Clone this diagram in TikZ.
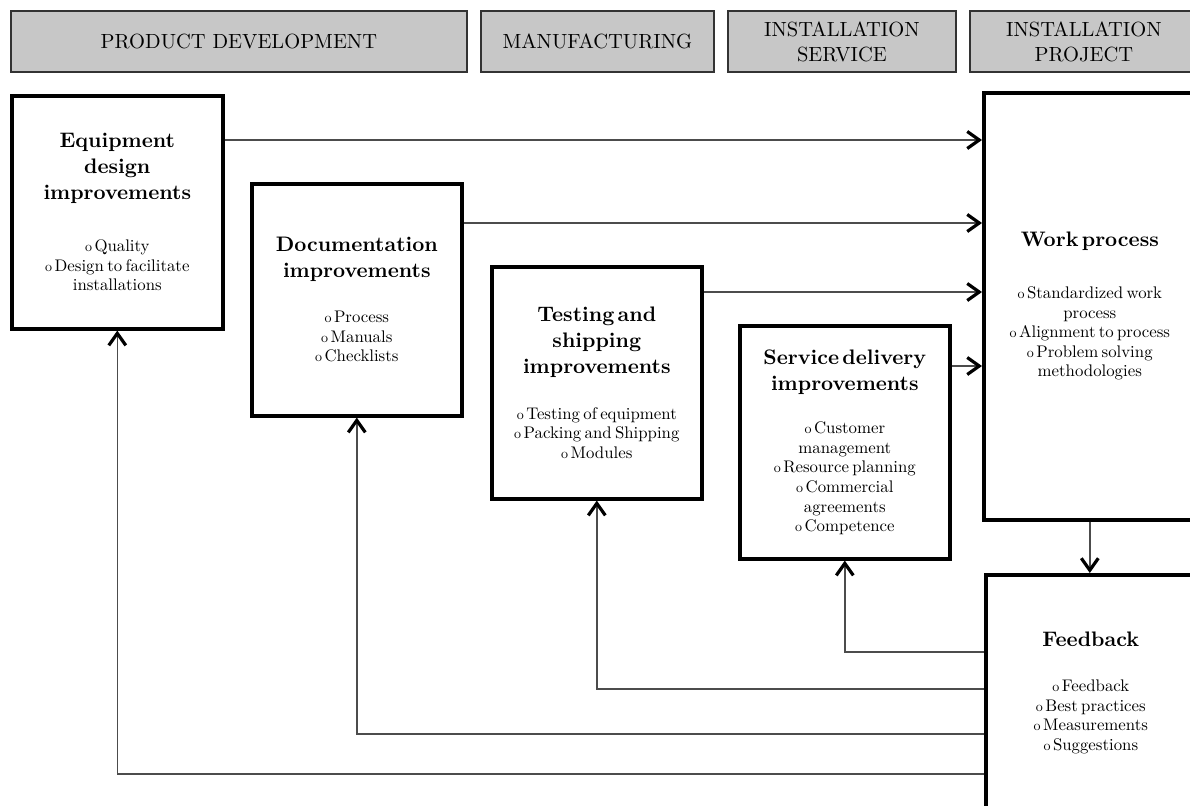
\documentclass[tikz,border=0pt]{standalone}
\usepackage{fontspec}
\setmainfont{lmroman10-regular}[Extension=.otf, BoldFont=lmroman10-bold]
\usetikzlibrary{arrows.meta}
\newcommand\hdrfont{\fontsize{20.5}{25}\selectfont}
\newcommand\ttlfont{\fontsize{21}{26}\selectfont\bfseries}
\newcommand\bdyfont{\fontsize{16.8}{19.6}\selectfont}
\newcommand\bul{{\fontsize{14}{14}\selectfont o}\kern2.5pt}
\newcommand\blocktext[3]{{\ttlfont #1\par}\vspace{#3}{\bdyfont #2\par}}
\begin{document}
\begin{tikzpicture}[x=1pt,y=-1pt,
  hdr/.style={draw=black!80, fill=black!22, line width=1.8pt, inner sep=0pt, align=center, font=\hdrfont, anchor=north west, minimum height=61pt},
  blk/.style={draw=black, line width=3.6pt, fill=white, inner sep=0pt, align=center, anchor=north west},
  conn/.style={draw=black!70, line width=1.6pt},
  arr/.style={conn, -{Straight Barb[length=12pt,width=17pt,line width=3.2pt,color=black]}},
]
\useasboundingbox (0,0) rectangle (1190,805);
\clip (0,0) rectangle (1190,805);

% headers
\node[hdr, minimum width=456pt] (hp) at (10,10) {PRODUCT DEVELOPMENT};
\node[hdr, minimum width=233pt] (hm) at (480,10) {MANUFACTURING};
\node[hdr, minimum width=228pt] (hs) at (727,10) {INSTALLATION\\SERVICE};
\node[hdr, minimum width=228pt] (hi) at (969,10) {INSTALLATION\\PROJECT};

% blocks
\node[blk, minimum width=211pt, minimum height=233pt, text width=205pt] (eq) at (10,94)
  {\blocktext{Equipment\\design\\improvements}{\bul Quality\\\bul Design to facilitate\\installations}{32pt}};
\node[blk, minimum width=210pt, minimum height=232pt, text width=205pt] (doc) at (250,182)
  {\blocktext{Documentation\\improvements}{\bul Process\\\bul Manuals\\\bul Checklists}{25pt}};
\node[blk, minimum width=210pt, minimum height=232pt, text width=205pt] (test) at (490,265)
  {\blocktext{Testing and\\shipping\\improvements}{\bul Testing of equipment\\\bul Packing and Shipping\\\bul Modules}{26pt}};
\node[blk, minimum width=210pt, minimum height=233pt, text width=205pt] (serv) at (738,324)
  {\blocktext{Service delivery\\improvements}{\bul Customer\\management\\\bul Resource planning\\\bul Commercial\\agreements\\\bul Competence}{24pt}};
\node[blk, minimum width=212pt, minimum height=427pt, text width=205pt] (work) at (982,91)
  {\blocktext{Work process}{\bul Standardized work\\process\\\bul Alignment to process\\\bul Problem solving\\methodologies}{32pt}};
\node[blk, minimum width=210pt, minimum height=236pt, text width=205pt] (fb) at (984,573)
  {\blocktext{Feedback}{\bul Feedback\\\bul Best practices\\\bul Measurements\\\bul Suggestions}{26pt}};

% level coordinates
\coordinate (y1) at (0,140);
\coordinate (y2) at (0,223);
\coordinate (y3) at (0,292);
\coordinate (y4) at (0,366);
\coordinate (f1) at (0,652);
\coordinate (f2) at (0,689);
\coordinate (f3) at (0,734);
\coordinate (f4) at (0,774);

% forward arrows
\draw[arr] (eq.east |- y1) -- (work.west |- y1);
\draw[arr] (doc.east |- y2) -- (work.west |- y2);
\draw[arr] (test.east |- y3) -- (work.west |- y3);
\draw[arr] (serv.east |- y4) -- (work.west |- y4);
\draw[arr] (work.south) -- (work.south |- fb.north);

% feedback arrows
\draw[arr] (fb.west |- f1) -| (serv.south);
\draw[arr] (fb.west |- f2) -| (test.south);
\draw[arr] (fb.west |- f3) -| (doc.south);
\draw[arr] (fb.west |- f4) -| (eq.south);
\end{tikzpicture}
\end{document}
